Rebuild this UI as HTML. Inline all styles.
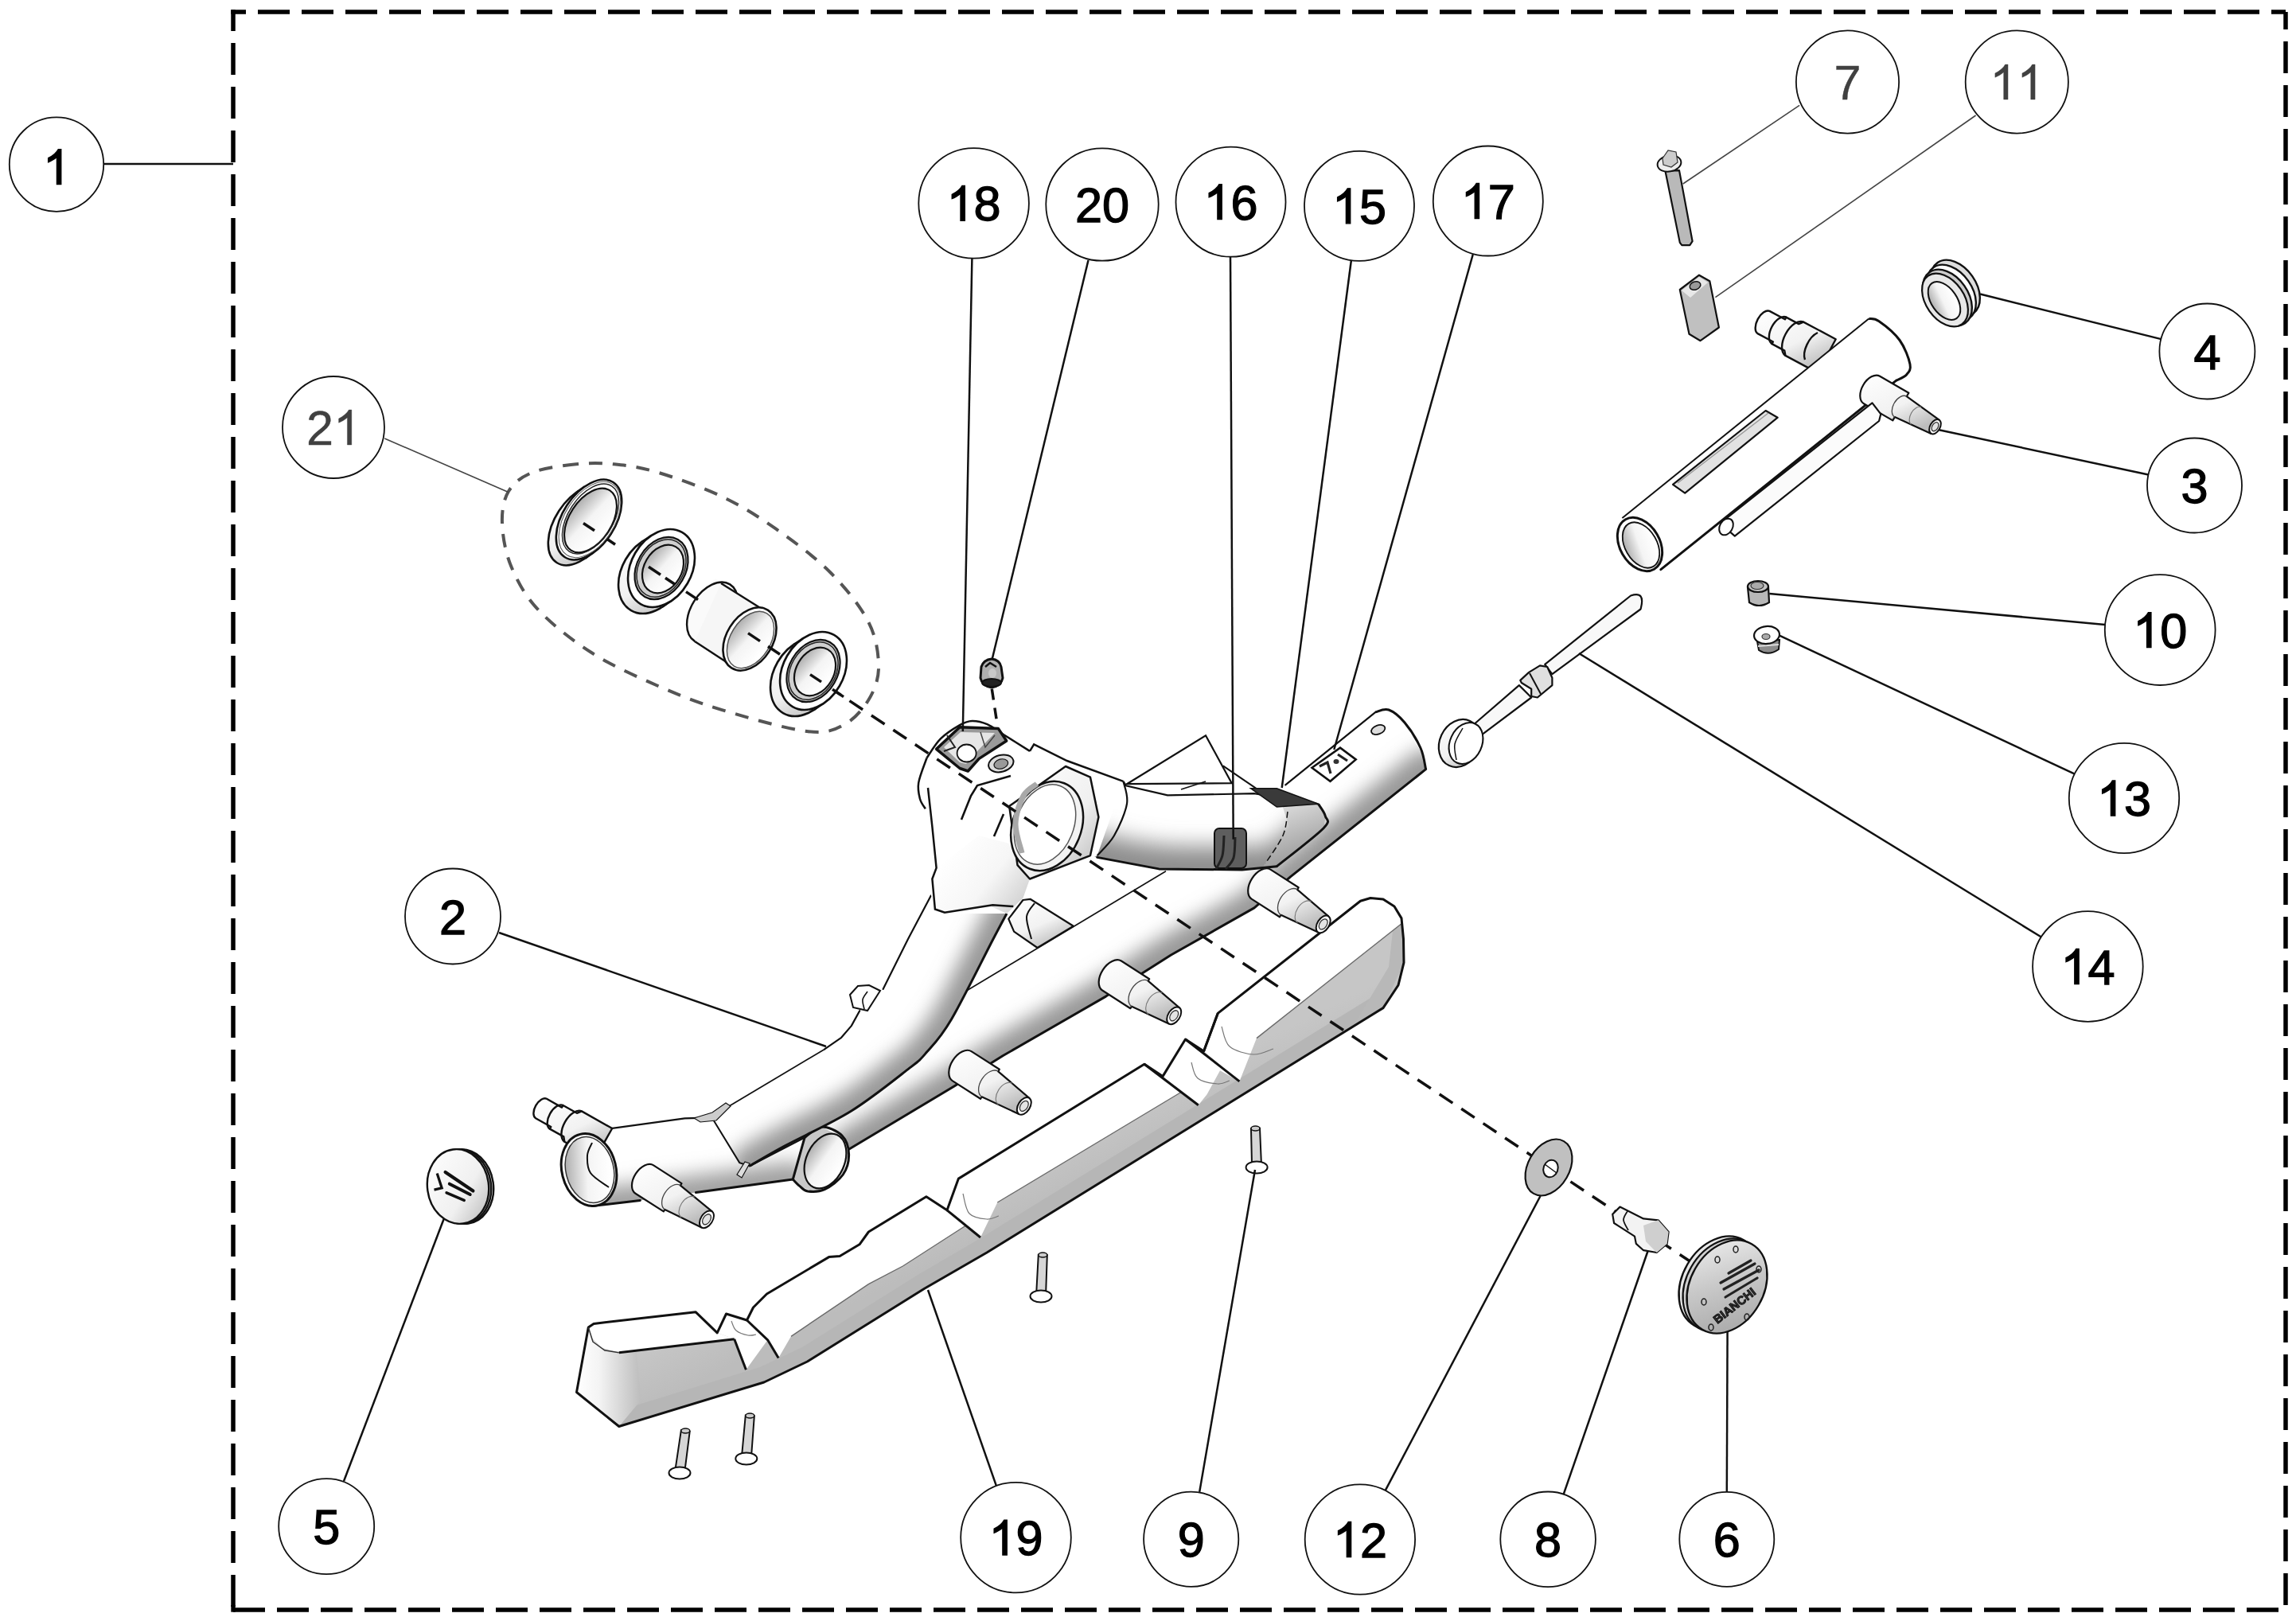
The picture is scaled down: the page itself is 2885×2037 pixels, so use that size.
<!DOCTYPE html>
<html><head><meta charset="utf-8"><title>Parts diagram</title>
<style>
html,body{margin:0;padding:0;background:#fff;}
body{width:2885px;height:2037px;overflow:hidden;}
svg{display:block;font-family:"Liberation Sans", sans-serif;}
</style></head><body>
<svg width="2885" height="2037" viewBox="0 0 2885 2037">
<rect width="2885" height="2037" fill="#fff"/>
<g stroke="#000" stroke-width="5.5" fill="none">
<line x1="290.3" y1="15" x2="2872" y2="15" stroke-dasharray="18.7 15 40 15 40 15 40 15 40 15 40 15 40 15 40 15 40 15 40 15 40 15 40 15 40 15 40 15 40 15 40 15 40 15 40 15 40 15 40 15 40 15 40 15 40 15 40 15 40 15 40 15 40 15 40 15 40 15 40 15 40 15 40 15 40 15 40 15 40 15 40 15 40 15 40 15 40 15 40 15 40 15 40 15 40 15 40 15 40 15 40 15 40 15 40 15 40 15 40 15 1000"/>
<line x1="293" y1="12.3" x2="293" y2="2023" stroke-dasharray="40 15" stroke-dashoffset="13.3"/>
<line x1="293" y1="2023" x2="2872" y2="2023" stroke-dasharray="40 15"/>
<rect x="290.3" y="2017" width="5.4" height="8.7" fill="#000" stroke="none"/>
<line x1="2872" y1="2023" x2="2872" y2="15" stroke-dasharray="40 15" stroke-dashoffset="49"/>
</g>
<defs>
<linearGradient id="gSkidFront" x1="0" y1="0" x2="1" y2="0">
 <stop offset="0" stop-color="#ffffff"/><stop offset="0.35" stop-color="#f4f4f4"/><stop offset="1" stop-color="#bdbdbd"/>
</linearGradient>
<linearGradient id="gSkidSide" gradientUnits="userSpaceOnUse" x1="1000" y1="1600" x2="1030" y2="1660">
 <stop offset="0" stop-color="#c6c6c6"/><stop offset="1" stop-color="#bcbcbc"/>
</linearGradient>
<linearGradient id="gTubeA" gradientUnits="userSpaceOnUse" x1="1020" y1="1250" x2="1150" y2="1380">
 <stop offset="0" stop-color="#ffffff"/><stop offset="0.45" stop-color="#fbfbfb"/><stop offset="0.8" stop-color="#cfcfcf"/><stop offset="1" stop-color="#a9a9a9"/>
</linearGradient>
<linearGradient id="gTubeB" gradientUnits="userSpaceOnUse" x1="1390" y1="1150" x2="1440" y2="1240">
 <stop offset="0" stop-color="#ffffff"/><stop offset="0.5" stop-color="#f7f7f7"/><stop offset="0.85" stop-color="#cdcdcd"/><stop offset="1" stop-color="#b0b0b0"/>
</linearGradient>
<linearGradient id="gTubeC" gradientUnits="userSpaceOnUse" x1="0" y1="1410" x2="0" y2="1510">
 <stop offset="0" stop-color="#ffffff"/><stop offset="0.5" stop-color="#f4f4f4"/><stop offset="1" stop-color="#b9b9b9"/>
</linearGradient>
<linearGradient id="gTubeD" gradientUnits="userSpaceOnUse" x1="0" y1="990" x2="0" y2="1092">
 <stop offset="0" stop-color="#ffffff"/><stop offset="0.35" stop-color="#f6f6f6"/><stop offset="1" stop-color="#9e9e9e"/>
</linearGradient>
<linearGradient id="gDEnd" gradientUnits="userSpaceOnUse" x1="1610" y1="1000" x2="1640" y2="1080">
 <stop offset="0" stop-color="#e6e6e6"/><stop offset="1" stop-color="#9a9a9a"/>
</linearGradient>
<linearGradient id="gHubNeck" gradientUnits="userSpaceOnUse" x1="1200" y1="1060" x2="1290" y2="1130">
 <stop offset="0" stop-color="#ffffff"/><stop offset="0.55" stop-color="#f6f6f6"/><stop offset="1" stop-color="#d2d2d2"/>
</linearGradient>
<linearGradient id="gStud" x1="0" y1="0" x2="0.6" y2="1">
 <stop offset="0" stop-color="#ffffff"/><stop offset="0.6" stop-color="#f2f2f2"/><stop offset="1" stop-color="#bdbdbd"/>
</linearGradient>
<linearGradient id="gInner" x1="0" y1="0" x2="1" y2="0.3">
 <stop offset="0" stop-color="#9c9c9c"/><stop offset="0.55" stop-color="#f4f4f4"/><stop offset="1" stop-color="#ffffff"/>
</linearGradient>
<linearGradient id="gGrayPart" x1="0" y1="0" x2="1" y2="0">
 <stop offset="0" stop-color="#d8d8d8"/><stop offset="0.5" stop-color="#bdbdbd"/><stop offset="1" stop-color="#aaaaaa"/>
</linearGradient>
<linearGradient id="gCap" x1="0" y1="0" x2="0.8" y2="1">
 <stop offset="0" stop-color="#f2f2f2"/><stop offset="0.5" stop-color="#c9c9c9"/><stop offset="1" stop-color="#a8a8a8"/>
</linearGradient>
<linearGradient id="gRing" x1="0" y1="0" x2="1" y2="1">
 <stop offset="0" stop-color="#ffffff"/><stop offset="0.6" stop-color="#f0f0f0"/><stop offset="1" stop-color="#b5b5b5"/>
</linearGradient>
<linearGradient id="gT3" gradientUnits="userSpaceOnUse" x1="2200" y1="540" x2="2250" y2="610">
 <stop offset="0" stop-color="#ffffff"/><stop offset="0.55" stop-color="#f6f6f6"/><stop offset="1" stop-color="#c4c4c4"/>
</linearGradient>
<filter id="blur8" filterUnits="userSpaceOnUse" x="0" y="0" width="2885" height="2037"><feGaussianBlur stdDeviation="8"/></filter>
<filter id="blur10" filterUnits="userSpaceOnUse" x="0" y="0" width="2885" height="2037"><feGaussianBlur stdDeviation="10"/></filter>
<filter id="blur14" filterUnits="userSpaceOnUse" x="0" y="0" width="2885" height="2037"><feGaussianBlur stdDeviation="14"/></filter>
<filter id="blur18" filterUnits="userSpaceOnUse" x="0" y="0" width="2885" height="2037"><feGaussianBlur stdDeviation="18"/></filter>
<filter id="blur12" filterUnits="userSpaceOnUse" x="0" y="0" width="2885" height="2037"><feGaussianBlur stdDeviation="12"/></filter>
<filter id="blur6" filterUnits="userSpaceOnUse" x="0" y="0" width="2885" height="2037"><feGaussianBlur stdDeviation="6"/></filter>
</defs>
<polygon points="777.8,1792.5 724.5,1749.5 739.3,1668 746,1663.4 874,1648.7 901.2,1674.8 912.5,1651 938.5,1659 946.5,1643 963.5,1626 1041.6,1579.6 1055.2,1578.5 1080,1563.8 1091.4,1548 1163.9,1503.8 1190,1520.8 1204.4,1481.1 1437.9,1337.2 1461,1352.6 1489.5,1306 1512.6,1320.9 1530.2,1273.4 1709.4,1132.2 1722,1128.5 1738,1130 1752,1139 1761,1153.9 1763.5,1180 1764,1209.6 1757,1238 1738,1266.6 1240,1574 1161.6,1619.3 1014.4,1711 960,1737" fill="url(#gSkidSide)" stroke="none"/>
<polygon points="1738,1266.6 1240,1574 1161.6,1619.3 1014.4,1711 960,1737 777.8,1792.5 770,1775 955,1718 1008,1693 1155,1601 1232,1556 1745,1240" fill="#b6b6b6" stroke="none"/>
<polygon points="724.5,1749.5 739.3,1668 745,1684 760,1697 777.8,1699.7 800,1697 805,1760 777.8,1792.5" fill="url(#gSkidFront)" stroke="none"/>
<polygon points="739.3,1668 746,1663.4 874,1648.7 901.2,1674.8 922.7,1682.7 777.8,1699.7 757,1694 744,1682" fill="#ffffff" stroke="none"/>
<polygon points="901.2,1674.8 912.5,1651 938.5,1659 946.5,1643 963.5,1626 1041.6,1579.6 1055.2,1578.5 1080,1563.8 1091.4,1548 1163.9,1503.8 1190,1520.8 1213.7,1540 1134.5,1591 1091.4,1613.6 994,1679.3 978.2,1706.5 964.6,1683.8 937.4,1721.2 922.7,1682.7" fill="#ffffff" stroke="none"/>
<polygon points="1190,1520.8 1204.4,1481.1 1437.9,1337.2 1505.8,1388.8 1484,1372.5 1253.3,1511 1232,1555" fill="#ffffff" stroke="none"/>
<polygon points="1461,1352.6 1489.5,1306 1557.4,1358.9 1533,1345.3 1516.6,1375.2 1505.8,1388.8" fill="#ffffff" stroke="none"/>
<polygon points="1512.6,1320.9 1530.2,1273.4 1709.4,1132.2 1720,1129 1735,1130 1750,1138 1761,1153.9 1761,1160.7 1579,1304.6 1557.4,1358.9" fill="#ffffff" stroke="none"/>
<polygon points="1761,1160.7 1764,1209.6 1738,1266.6 1700,1290 1745,1215 1750,1170" fill="#b8b8b8" stroke="none"/>
<polyline points="777.8,1699.7 922.7,1682.7" fill="none" stroke="#111" stroke-width="3"/>
<polyline points="994,1679.3 1091.4,1613.6 1134.5,1591 1213.7,1540" fill="none" stroke="#6a6a6a" stroke-width="1.4"/>
<polyline points="1253.3,1511 1484,1372.5" fill="none" stroke="#6a6a6a" stroke-width="1.4"/>
<polyline points="1579,1304.6 1761,1160.7" fill="none" stroke="#6a6a6a" stroke-width="1.4"/>
<polygon points="777.8,1792.5 724.5,1749.5 739.3,1668 746,1663.4 874,1648.7 901.2,1674.8 912.5,1651 938.5,1659 946.5,1643 963.5,1626 1041.6,1579.6 1055.2,1578.5 1080,1563.8 1091.4,1548 1163.9,1503.8 1190,1520.8 1204.4,1481.1 1437.9,1337.2 1461,1352.6 1489.5,1306 1512.6,1320.9 1530.2,1273.4 1709.4,1132.2 1722,1128.5 1738,1130 1752,1139 1761,1153.9 1763.5,1180 1764,1209.6 1757,1238 1738,1266.6 1240,1574 1161.6,1619.3 1014.4,1711 960,1737 777.8,1792.5" fill="none" stroke="#111" stroke-width="3" stroke-linejoin="round"/>
<polyline points="922.7,1682.7 937.4,1721.2" fill="none" stroke="#111" stroke-width="3" stroke-linejoin="round"/>
<polyline points="938.5,1659 964.6,1683.8 978.2,1706.5" fill="none" stroke="#111" stroke-width="3" stroke-linejoin="round"/>
<polyline points="1190,1520.8 1232,1555" fill="none" stroke="#111" stroke-width="3" stroke-linejoin="round"/>
<polyline points="1437.9,1337.2 1505.8,1388.8" fill="none" stroke="#111" stroke-width="3" stroke-linejoin="round"/>
<polyline points="1489.5,1306 1557.4,1358.9" fill="none" stroke="#111" stroke-width="3" stroke-linejoin="round"/>
<polyline points="739.3,1668 745,1686 760,1697 777.8,1699.7" fill="none" stroke="#333" stroke-width="1.5"/>
<polyline points="1512.6,1320.9 1530.2,1273.4" fill="none" stroke="#111" stroke-width="3" stroke-linejoin="round"/>
<path d="M1535,1290 C1536.7,1294.2 1538.3,1309.2 1545,1315 C1551.7,1320.8 1565.8,1324.5 1575,1325 C1584.2,1325.5 1595.8,1319.2 1600,1318" stroke="#777" stroke-width="1.2" fill="none"/>
<path d="M1497,1335 C1498.3,1338.3 1499.5,1350.5 1505,1355 C1510.5,1359.5 1523.3,1361.5 1530,1362 C1536.7,1362.5 1542.5,1358.7 1545,1358" stroke="#777" stroke-width="1.2" fill="none"/>
<path d="M1210,1500 C1211.3,1504.2 1213,1519.7 1218,1525 C1223,1530.3 1233.8,1531.5 1240,1532 C1246.2,1532.5 1252.5,1528.7 1255,1528" stroke="#777" stroke-width="1.2" fill="none"/>
<path d="M919,1660 C920,1662 921.5,1669 925,1672 C928.5,1675 935.8,1677.2 940,1678 C944.2,1678.8 948.3,1677.2 950,1677" stroke="#777" stroke-width="1.2" fill="none"/><clipPath id="clip1"><polygon points="1040,1415 1214.5,1245 1465,1094.7 1615.2,986.3 1728.4,894.8 1739.3,892.7 1763.3,906.8 1789.4,951.5 1791.6,966.7 1621.7,1101.7 1576,1140.9 1471.5,1200 1389.6,1252.1 1260,1326.8 1199.8,1364.6 1066.6,1444.3"/></clipPath><polygon points="1040,1415 1214.5,1245 1465,1094.7 1615.2,986.3 1728.4,894.8 1739.3,892.7 1763.3,906.8 1789.4,951.5 1791.6,966.7 1621.7,1101.7 1576,1140.9 1471.5,1200 1389.6,1252.1 1260,1326.8 1199.8,1364.6 1066.6,1444.3" fill="#ffffff" stroke="none"/><g clip-path="url(#clip1)"><path d="M1066.6,1444.3 C1088.8,1431 1167.6,1384.2 1199.8,1364.6 C1232,1345 1228.4,1345.5 1260,1326.8 C1291.6,1308 1354.3,1273.2 1389.6,1252.1 C1424.8,1231 1440.4,1218.5 1471.5,1200 C1502.6,1181.5 1551,1157.3 1576,1140.9 C1601,1124.5 1585.8,1130.7 1621.7,1101.7 C1657.6,1072.7 1763.3,989.2 1791.6,966.7" fill="none" stroke="#999999" stroke-width="50" stroke-linecap="round" stroke-linejoin="round" filter="url(#blur12)" opacity="1.0"/></g>
<polyline points="1214.5,1245 1465,1094.7" fill="none" stroke="#111" stroke-width="1.6"/>
<polyline points="1615.2,986.3 1728.4,894.8" fill="none" stroke="#111" stroke-width="2.2" stroke-linejoin="round" stroke-linecap="round"/>
<path d="M1728.4,894.8 C1731.2,894.3 1738.9,889.8 1745,892 C1751.1,894.2 1758.3,900 1765,908 C1771.7,916 1780.6,930.2 1785,940 C1789.4,949.8 1790.5,962.2 1791.6,966.7" stroke="#111" stroke-width="3" fill="none"/>
<polyline points="1791.6,966.7 1621.7,1101.7 1576,1140.9 1471.5,1200 1389.6,1252.1 1260,1326.8 1199.8,1364.6 1066.6,1444.3" fill="none" stroke="#111" stroke-width="3" stroke-linejoin="round" stroke-linecap="round"/>
<ellipse cx="1731.7" cy="917" rx="9" ry="5.5" transform="rotate(-20 1731.7 917)" fill="#ddd" stroke="#111" stroke-width="1.8"/>
<polygon points="1648.5,964.8 1684,939.6 1703.7,954.4 1671.5,981.8" fill="#fff" stroke="#111" stroke-width="2.6"/>
<polyline points="1658,963 1668,958 1672,972" fill="none" stroke="#222" stroke-width="3.2"/>
<polyline points="1681,948 1693,956" fill="none" stroke="#222" stroke-width="3.2"/>
<ellipse cx="1679" cy="957" rx="3.5" ry="3" fill="#333" stroke="none"/>
<path d="M1196.7,1358.1 A13.6,22 32.8 0 1 1220.5,1321.1 L1255.8,1343.8 L1254.2,1346.3 L1293.3,1379.8 L1280.3,1400 L1233.6,1378.3 L1232,1380.8 Z" fill="url(#gStud)" stroke="#111" stroke-width="2.2" stroke-linejoin="round"/>
<path d="M1254.2,1346.3 A11.8,19 32.8 0 0 1233.6,1378.3" fill="none" stroke="#444" stroke-width="1.3"/>
<path d="M1271.8,1361.4 A9.8,15.8 32.8 0 0 1254.6,1388.1" fill="none" stroke="#777" stroke-width="1.1"/>
<ellipse cx="1286.8" cy="1389.9" rx="7.4" ry="12" transform="rotate(32.8 1286.8 1389.9)" fill="#fff" stroke="#111" stroke-width="2"/>
<ellipse cx="1286.8" cy="1389.9" rx="4.5" ry="7.2" transform="rotate(32.8 1286.8 1389.9)" fill="#e4e4e4" stroke="#333" stroke-width="1.3"/>
<path d="M1385.1,1244.5 A13.6,22 32.8 0 1 1408.9,1207.5 L1444.2,1230.2 L1442.6,1232.7 L1481.7,1266.2 L1468.7,1286.4 L1422,1264.7 L1420.4,1267.2 Z" fill="url(#gStud)" stroke="#111" stroke-width="2.2" stroke-linejoin="round"/>
<path d="M1442.6,1232.7 A11.8,19 32.8 0 0 1422,1264.7" fill="none" stroke="#444" stroke-width="1.3"/>
<path d="M1460.2,1247.8 A9.8,15.8 32.8 0 0 1443,1274.5" fill="none" stroke="#777" stroke-width="1.1"/>
<ellipse cx="1475.2" cy="1276.3" rx="7.4" ry="12" transform="rotate(32.8 1475.2 1276.3)" fill="#fff" stroke="#111" stroke-width="2"/>
<ellipse cx="1475.2" cy="1276.3" rx="4.5" ry="7.2" transform="rotate(32.8 1475.2 1276.3)" fill="#e4e4e4" stroke="#333" stroke-width="1.3"/>
<path d="M1572.6,1129.6 A13.6,22 32.8 0 1 1596.4,1092.6 L1631.7,1115.3 L1630.1,1117.8 L1669.2,1151.3 L1656.2,1171.5 L1609.5,1149.8 L1607.9,1152.3 Z" fill="url(#gStud)" stroke="#111" stroke-width="2.2" stroke-linejoin="round"/>
<path d="M1630.1,1117.8 A11.8,19 32.8 0 0 1609.5,1149.8" fill="none" stroke="#444" stroke-width="1.3"/>
<path d="M1647.7,1132.9 A9.8,15.8 32.8 0 0 1630.5,1159.6" fill="none" stroke="#777" stroke-width="1.1"/>
<ellipse cx="1662.7" cy="1161.4" rx="7.4" ry="12" transform="rotate(32.8 1662.7 1161.4)" fill="#fff" stroke="#111" stroke-width="2"/>
<ellipse cx="1662.7" cy="1161.4" rx="4.5" ry="7.2" transform="rotate(32.8 1662.7 1161.4)" fill="#e4e4e4" stroke="#333" stroke-width="1.3"/>
<polygon points="1267.3,1154.7 1285.4,1131 1294.5,1129.8 1348.8,1163.8 1303.5,1191 1274.1,1170.6" fill="url(#gStud)" stroke="#111" stroke-width="2.2" stroke-linejoin="round" stroke-linecap="round"/>
<path d="M1300,1135 C1298.3,1137.8 1290.7,1144.5 1290,1152 C1289.3,1159.5 1295,1175.3 1296,1180" stroke="#111" stroke-width="2" fill="none"/>
<clipPath id="clip2"><polygon points="722.1,1424.3 860.4,1405.3 894.6,1404.4 941.8,1465.3 1011,1429.6 996.3,1482 874.4,1498.5 804.3,1508.5 744.1,1515.5"/></clipPath><polygon points="722.1,1424.3 860.4,1405.3 894.6,1404.4 941.8,1465.3 1011,1429.6 996.3,1482 874.4,1498.5 804.3,1508.5 744.1,1515.5" fill="#ffffff" stroke="none"/><g clip-path="url(#clip2)"><path d="M744.1,1515.5 C754.1,1514.3 782.6,1511.3 804.3,1508.5 C826,1505.7 842.4,1502.9 874.4,1498.5 C906.4,1494.1 976,1484.8 996.3,1482" fill="none" stroke="#a0a0a0" stroke-width="44" stroke-linecap="round" stroke-linejoin="round" filter="url(#blur12)" opacity="1.0"/></g>
<polyline points="722.1,1424.3 860.4,1405.3 894.6,1404.4" fill="none" stroke="#111" stroke-width="2.2" stroke-linejoin="round" stroke-linecap="round"/>
<polyline points="744.1,1515.5 804.3,1508.5" fill="none" stroke="#111" stroke-width="3" stroke-linejoin="round" stroke-linecap="round"/>
<polyline points="874.4,1498.5 996.3,1482" fill="none" stroke="#111" stroke-width="3" stroke-linejoin="round" stroke-linecap="round"/>
<polyline points="941.8,1465.3 1011,1429.6" fill="none" stroke="#111" stroke-width="2.2" stroke-linejoin="round" stroke-linecap="round"/>
<path d="M673.1,1405.2 A7.7,14 29.4 0 1 686.9,1380.8 L706,1391.6 L707.5,1389 L724.9,1398.8 L730.9,1396.4 L769.2,1418 L747.6,1456.3 L709.3,1434.7 L708.3,1428.4 L690.8,1418.6 L692.3,1416 L673.1,1405.2 Z" fill="url(#gStud)" stroke="#111" stroke-width="2.4" stroke-linejoin="round"/>
<path d="M707.5,1389 A9.4,17 29.4 0 0 690.8,1418.6" fill="none" stroke="#111" stroke-width="2.4"/>
<path d="M730.9,1396.4 A12.1,22 29.4 0 0 709.3,1434.7" fill="none" stroke="#111" stroke-width="2.4"/>
<ellipse cx="740" cy="1470" rx="34" ry="46" transform="rotate(-14 740 1470)" fill="#fff" stroke="#111" stroke-width="3" stroke-linejoin="round" stroke-linecap="round"/>
<ellipse cx="741" cy="1470" rx="30" ry="42" transform="rotate(-14 741 1470)" fill="url(#gInner)" stroke="#333" stroke-width="1.5"/>
<path d="M744,1436 C743,1438.7 738.3,1445.7 738,1452 C737.7,1458.3 737.5,1467.3 742,1474 C746.5,1480.7 761.2,1489 765,1492" stroke="#111" stroke-width="2" fill="none"/>
<path d="M798.4,1499.7 A13,21 32.8 0 1 821.2,1464.3 L856.5,1487.1 L854.9,1489.6 L894.5,1522.2 L881.5,1542.4 L835.4,1519.9 L833.8,1522.4 Z" fill="url(#gStud)" stroke="#111" stroke-width="2.2" stroke-linejoin="round"/>
<path d="M854.9,1489.6 A11.2,18 32.8 0 0 835.4,1519.9" fill="none" stroke="#444" stroke-width="1.3"/>
<path d="M872.7,1504.3 A9.5,15.3 32.8 0 0 856.1,1530" fill="none" stroke="#777" stroke-width="1.1"/>
<ellipse cx="888" cy="1532.3" rx="7.4" ry="12" transform="rotate(32.8 888 1532.3)" fill="#fff" stroke="#111" stroke-width="2"/>
<ellipse cx="888" cy="1532.3" rx="4.5" ry="7.2" transform="rotate(32.8 888 1532.3)" fill="#e4e4e4" stroke="#333" stroke-width="1.3"/>
<polygon points="996.3,1482 1011,1429.6 1032,1416 1060,1430 1066.6,1450.6 1059.3,1473.6 1036.2,1494.6 1019.4,1496.7 1004.7,1490.4" fill="#c8c8c8" stroke="none"/>
<path d="M1011,1429.6 C1014.5,1427.3 1024.2,1416.4 1032,1416 C1039.8,1415.6 1052.2,1421.2 1058,1427 C1063.8,1432.8 1066.4,1442.4 1066.6,1450.6 C1066.8,1458.8 1064.4,1468.7 1059.3,1476 C1054.2,1483.3 1043.6,1491.1 1036.2,1494.6 C1028.8,1498.1 1020.2,1497.7 1015,1497 C1009.8,1496.3 1007.8,1492.9 1004.7,1490.4 C1001.6,1487.9 997.7,1483.4 996.3,1482" stroke="#111" stroke-width="3" fill="none"/>
<polyline points="1011,1429.6 996.3,1482" fill="none" stroke="#111" stroke-width="3" stroke-linejoin="round" stroke-linecap="round"/>
<ellipse cx="1037" cy="1459" rx="24" ry="36" transform="rotate(24 1037 1459)" fill="url(#gInner)" stroke="#111" stroke-width="2.2"/>
<clipPath id="clip3"><polygon points="1169.9,1125.3 1141,1180 1109.6,1242.9 1080.2,1270.2 1069.8,1289.1 1057.2,1303.8 1036.2,1318.4 916.6,1389.8 894.6,1404.4 929.2,1461.1 941.8,1465.3 985.9,1440.1 1069.8,1396 1141,1343.6 1164.1,1322.6 1195.6,1280.7 1248,1180 1265,1148 1185.7,1148"/></clipPath><polygon points="1169.9,1125.3 1141,1180 1109.6,1242.9 1080.2,1270.2 1069.8,1289.1 1057.2,1303.8 1036.2,1318.4 916.6,1389.8 894.6,1404.4 929.2,1461.1 941.8,1465.3 985.9,1440.1 1069.8,1396 1141,1343.6 1164.1,1322.6 1195.6,1280.7 1248,1180 1265,1148 1185.7,1148" fill="#ffffff" stroke="none"/><g clip-path="url(#clip3)"><path d="M941.8,1465.3 C949.1,1461.1 964.6,1451.6 985.9,1440.1 C1007.2,1428.5 1044,1412.1 1069.8,1396 C1095.6,1379.9 1125.3,1355.8 1141,1343.6 C1156.7,1331.4 1155,1333.1 1164.1,1322.6 C1173.2,1312.1 1181.6,1304.5 1195.6,1280.7 C1209.6,1256.9 1236.4,1202.1 1248,1180 C1259.6,1157.9 1262.2,1153.3 1265,1148" fill="none" stroke="#999999" stroke-width="50" stroke-linecap="round" stroke-linejoin="round" filter="url(#blur12)" opacity="1.0"/></g>
<polyline points="1169.9,1125.3 1141,1180 1109.6,1242.9" fill="none" stroke="#111" stroke-width="2.2" stroke-linejoin="round" stroke-linecap="round"/>
<polyline points="1080.2,1270.2 1069.8,1289.1 1057.2,1303.8 1036.2,1318.4" fill="none" stroke="#111" stroke-width="2.2" stroke-linejoin="round" stroke-linecap="round"/>
<polyline points="1036.2,1318.4 916.6,1389.8" fill="none" stroke="#111" stroke-width="1.8"/>
<polyline points="894.6,1404.4 929.2,1461.1 941.8,1465.3" fill="none" stroke="#111" stroke-width="2"/>
<path d="M941.8,1465.3 C949.1,1461.1 964.6,1451.6 985.9,1440.1 C1007.2,1428.5 1044,1412.1 1069.8,1396 C1095.6,1379.9 1125.3,1355.8 1141,1343.6 C1156.7,1331.4 1155,1333.1 1164.1,1322.6 C1173.2,1312.1 1181.6,1304.5 1195.6,1280.7 C1209.6,1256.9 1236.4,1202.1 1248,1180 C1259.6,1157.9 1262.2,1153.3 1265,1148" stroke="#111" stroke-width="3" fill="none"/>
<polygon points="872,1405 895,1398 912,1386 918,1390 900,1408 880,1410" fill="#ccc" stroke="#111" stroke-width="1.2"/>
<polygon points="926,1476 936,1460 942,1462 932,1480" fill="#ddd" stroke="#111" stroke-width="1.2"/>
<polygon points="1068,1250 1078,1239 1092,1238 1106,1245 1090,1270 1072,1266" fill="#fff" stroke="#111" stroke-width="2"/>
<path d="M1090,1246 C1089,1247.7 1084.7,1252.3 1084,1256 C1083.3,1259.7 1085.7,1266 1086,1268" stroke="#111" stroke-width="1.6" fill="none"/>
<clipPath id="clip4"><polygon points="1339,963 1411.5,981.9 1414.8,987.4 1467.1,999.4 1576,997.2 1656.6,1010.3 1665.3,1025.5 1663.1,1040.7 1604.3,1088.7 1560.7,1093 1456.2,1091.9 1378.7,1077.4 1370,1075.1"/></clipPath><polygon points="1339,963 1411.5,981.9 1414.8,987.4 1467.1,999.4 1576,997.2 1656.6,1010.3 1665.3,1025.5 1663.1,1040.7 1604.3,1088.7 1560.7,1093 1456.2,1091.9 1378.7,1077.4 1370,1075.1" fill="#ffffff" stroke="none"/><g clip-path="url(#clip4)"><path d="M1370,1075.1 C1371.5,1075.5 1364.3,1074.6 1378.7,1077.4 C1393.1,1080.2 1425.9,1089.3 1456.2,1091.9 C1486.5,1094.5 1536,1093.5 1560.7,1093 C1585.4,1092.5 1587.2,1097.4 1604.3,1088.7 C1621.4,1080 1653.3,1048.7 1663.1,1040.7" fill="none" stroke="#8e8e8e" stroke-width="60" stroke-linecap="round" stroke-linejoin="round" filter="url(#blur14)" opacity="1.0"/></g>
<polygon points="1610,1008 1656.6,1010.3 1665.3,1025.5 1663.1,1040.7 1604.3,1088.7 1585,1092 1620,1040" fill="url(#gDEnd)" stroke="none"/>
<polyline points="1411.5,981.9 1414.8,987.4 1467.1,999.4 1576,997.2 1656.6,1010.3" fill="none" stroke="#111" stroke-width="2.2"/>
<path d="M1656.6,1010.3 C1658,1012.8 1664.2,1020.4 1665.3,1025.5 C1666.4,1030.6 1673.3,1030.2 1663.1,1040.7 C1652.9,1051.2 1614.1,1080.7 1604.3,1088.7" stroke="#111" stroke-width="3" fill="none"/>
<polyline points="1604.3,1088.7 1560.7,1093 1456.2,1091.9 1378.7,1077.4" fill="none" stroke="#111" stroke-width="3" stroke-linejoin="round" stroke-linecap="round"/>
<path d="M1618,1020 C1617,1025 1616.7,1039.2 1612,1050 C1607.3,1060.8 1593.7,1079.2 1590,1085" stroke="#111" stroke-width="1.5" stroke-dasharray="8 4" fill="none"/>
<polygon points="1415.9,985.2 1515,924.2 1547.7,984.1" fill="#fff" stroke="#111" stroke-width="2.2"/>
<polyline points="1536.8,962.4 1578.2,990.7" fill="none" stroke="#111" stroke-width="2"/>
<polyline points="1484,992 1515,982" fill="none" stroke="#111" stroke-width="1.8"/>
<polygon points="1571.6,990.7 1604.3,990.7 1656.6,1010.3 1604.3,1014" fill="#3a3a3a" stroke="#111" stroke-width="1.5"/>
<rect x="1526" y="1041" width="40" height="50" rx="6" fill="#5e5e5e" stroke="#111" stroke-width="2"/>
<path d="M1538,1050 C1537.7,1054.2 1537.7,1068 1536,1075 C1534.3,1082 1529.3,1089.2 1528,1092" stroke="#222" stroke-width="3" fill="none"/>
<path d="M1552,1052 C1551.7,1056.3 1552,1071.3 1550,1078 C1548,1084.7 1541.7,1089.7 1540,1092" stroke="#222" stroke-width="3" fill="none"/>
<polygon points="1171.4,1104.5 1176.6,1090.7 1171.4,1038.9 1162.8,1016.4 1154.2,983.6 1164.5,952.5 1181.8,928.4 1206,911.1 1221.5,905.9 1240.5,910.2 1261.2,923.2 1294,943.9 1299.2,935.3 1340.7,956 1411.5,981.9 1378.7,1075.1 1342.4,1092.4 1294,1104.5 1285.4,1128.7 1265,1148 1242.4,1137.8 1185.7,1148 1176.7,1139 1169.9,1125.3" fill="#fff" stroke="none"/>
<polygon points="1176.6,1090.7 1230,1050 1268,1060 1294,1104.5 1285.4,1128.7 1265,1148 1242.4,1137.8 1185.7,1148 1176.7,1139 1171.4,1104.5" fill="url(#gHubNeck)" stroke="none"/>
<path d="M1164.5,952.5 C1162.8,957.7 1155.6,975 1154.2,983.6 C1152.8,992.2 1154.6,998.5 1156,1004 C1157.4,1009.5 1161.7,1014.3 1162.8,1016.4" stroke="#111" stroke-width="2.5" fill="none"/>
<path d="M1164.5,952.5 C1167.4,948.5 1174.9,935.3 1181.8,928.4 C1188.7,921.5 1199.4,914.9 1206,911.1 C1212.6,907.4 1215.8,906 1221.5,905.9 C1227.2,905.8 1233.9,907.3 1240.5,910.2 C1247.1,913.1 1252.3,917.6 1261.2,923.2 C1270.1,928.8 1288.5,940.5 1294,943.9" stroke="#111" stroke-width="2.5" fill="none"/>
<polyline points="1294,943.9 1299.2,935.3 1340.7,956 1411.5,981.9" fill="none" stroke="#111" stroke-width="2.5"/>
<polyline points="1166,990 1171.4,1038.9 1176.6,1090.7 1171.4,1104.5 1174.9,1142.5 1187,1146.8 1247.4,1137.3 1273.3,1139" fill="none" stroke="#111" stroke-width="2.5"/>
<polyline points="1270,975 1228,987 1220,1000 1208,1030" fill="none" stroke="#111" stroke-width="2.6"/>
<polyline points="1261,1023 1249,1051" fill="none" stroke="#111" stroke-width="2.6"/>
<path d="M1411.5,981.9 C1412.2,986.6 1417.9,998.6 1416,1010 C1414.1,1021.4 1406.2,1039.2 1400,1050 C1393.8,1060.8 1382.2,1070.9 1378.7,1075.1" stroke="#111" stroke-width="2.2" fill="none"/>
<polygon points="1268.2,1013 1339,963 1370,976.7 1380.4,1026.8 1370,1075.1 1294,1104.5 1278.5,1087.2" fill="url(#gRing)" stroke="#111" stroke-width="2.5" stroke-linejoin="round"/>
<ellipse cx="1315.6" cy="1038" rx="43" ry="58" transform="rotate(22 1315.6 1038)" fill="#f2f2f2" stroke="#111" stroke-width="2.5"/>
<ellipse cx="1313" cy="1036" rx="36" ry="52" transform="rotate(22 1313 1036)" fill="#fff" stroke="#555" stroke-width="1.5"/>
<path d="M1303,985 C1300.2,987.5 1290.5,991.7 1286,1000 C1281.5,1008.3 1276.3,1023 1276,1035 C1275.7,1047 1282.7,1065.8 1284,1072" stroke="#a8a8a8" stroke-width="7" fill="none"/>
<polygon points="1176.6,941.3 1206,913.7 1254.3,915.4 1264.7,931 1230.2,953.4 1216.3,969 1206,965.5" fill="#9a9a9a" stroke="#111" stroke-width="3.5" stroke-linejoin="round"/>
<polygon points="1186,939 1207,920 1250,921 1228,944 1214,960 1206,958" fill="#e6e6e6" stroke="none"/>
<polyline points="1190,924 1200,939 1186,944" fill="none" stroke="#222" stroke-width="2"/>
<polyline points="1232,920 1238,939 1250,924" fill="none" stroke="#444" stroke-width="1.5"/>
<ellipse cx="1214.6" cy="946.5" rx="12" ry="11" fill="#fff" stroke="#111" stroke-width="1.8"/>
<ellipse cx="1257.8" cy="959.4" rx="16" ry="10.5" transform="rotate(-15 1257.8 959.4)" fill="#ddd" stroke="#111" stroke-width="2"/>
<ellipse cx="1257.8" cy="960" rx="9" ry="6" transform="rotate(-15 1257.8 960)" fill="#999" stroke="#111" stroke-width="1.2"/><line x1="1040" y1="862.3" x2="2130" y2="1589.3" stroke="#111" stroke-width="3.5" stroke-dasharray="20 13"/>
<line x1="1246.3" y1="865.7" x2="1253" y2="910" stroke="#111" stroke-width="3.5" stroke-dasharray="14 10"/>
<path d="M724,583.3 C707,585 683.9,587.8 669.7,593.4 C655.6,599 645.6,606.5 639.1,617.2 C632.6,628 630.4,642.1 631,657.9 C631.6,673.7 634.9,694.1 642.5,712.2 C650.1,730.3 659.5,748.4 676.5,766.5 C693.5,784.6 719.4,805 744.3,820.8 C769.2,836.6 798.6,849.6 825.8,861.5 C852.9,873.4 875.5,882.5 907.2,892.1 C938.9,901.7 989.8,916.4 1015.8,919.2 C1041.8,922 1050.3,916.4 1063.3,909 C1076.3,901.6 1087.1,887.5 1093.9,875.1 C1100.7,862.7 1104.6,850.2 1104,834.4 C1103.4,818.6 1100.7,799.3 1090.5,780.1 C1080.3,760.9 1062.2,738.2 1043,719 C1023.8,699.8 997.7,680.5 975.1,664.7 C952.5,648.9 932.1,635.9 907.2,624 C882.3,612.1 848.4,600.2 825.8,593.4 C803.2,586.6 788.5,585 771.5,583.3 C754.5,581.6 741,581.6 724,583.3 Z" fill="none" stroke="#555" stroke-width="4" stroke-dasharray="17 13"/>
<ellipse cx="730" cy="660" rx="33" ry="56" transform="rotate(33 730 660)" fill="url(#gRing)" stroke="#111" stroke-width="2.6"/>
<polygon points="734.4,611.6 724.4,618.6 735.6,701.4 745.6,694.4" fill="#f4f4f4" stroke="none"/>
<line x1="734.4" y1="611.6" x2="724.4" y2="618.6" stroke="#111" stroke-width="2.4"/>
<line x1="745.6" y1="694.4" x2="735.6" y2="701.4" stroke="#111" stroke-width="2.4"/>
<ellipse cx="740" cy="653" rx="33" ry="56" transform="rotate(33 740 653)" fill="#ffffff" stroke="#111" stroke-width="2.6"/>
<ellipse cx="742" cy="654" rx="26.4" ry="44.8" transform="rotate(33 742 654)" fill="url(#gInner)" stroke="#111" stroke-width="2.2"/>
<ellipse cx="742" cy="652" rx="28" ry="49" transform="rotate(33 742 652)" fill="none" stroke="#222" stroke-width="1.4"/>
<ellipse cx="741" cy="653" rx="31" ry="53" transform="rotate(33 741 653)" fill="none" stroke="#555" stroke-width="1"/>
<ellipse cx="819" cy="722" rx="38" ry="52" transform="rotate(30 819 722)" fill="url(#gRing)" stroke="#111" stroke-width="2.6"/>
<polygon points="818.3,673 806.3,681 831.7,763 843.7,755" fill="#f4f4f4" stroke="none"/>
<line x1="818.3" y1="673" x2="806.3" y2="681" stroke="#111" stroke-width="2.4"/>
<line x1="843.7" y1="755" x2="831.7" y2="763" stroke="#111" stroke-width="2.4"/>
<ellipse cx="831" cy="714" rx="38" ry="52" transform="rotate(30 831 714)" fill="#ffffff" stroke="#111" stroke-width="2.6"/>
<ellipse cx="831" cy="714" rx="30.4" ry="41.6" transform="rotate(30 831 714)" fill="#cfcfcf" stroke="#111" stroke-width="2.2"/>
<ellipse cx="831" cy="714" rx="28.1" ry="38.5" transform="rotate(30 831 714)" fill="none" stroke="#222" stroke-width="1.5"/>
<ellipse cx="833" cy="715" rx="23.6" ry="32.2" transform="rotate(30 833 715)" fill="url(#gInner)" stroke="#111" stroke-width="2.2"/>
<polygon points="874,746 899,727 955,763 972,793 958,820 938,832 880,797 866,777" fill="url(#gRing)" stroke="none"/>
<ellipse cx="895" cy="770" rx="27" ry="42" transform="rotate(32 895 770)" fill="#fafafa" stroke="#111" stroke-width="2.4"/>
<polygon points="906,733 957,765 925,840 873,806" fill="#f6f6f6" stroke="none"/>
<polyline points="906,733 957,765" fill="none" stroke="#111" stroke-width="2.4"/>
<polyline points="873,806 925,840" fill="none" stroke="#111" stroke-width="2.4"/>
<ellipse cx="942" cy="803" rx="29" ry="43" transform="rotate(32 942 803)" fill="#ffffff" stroke="#111" stroke-width="2.6"/>
<ellipse cx="943" cy="804" rx="25" ry="39" transform="rotate(32 943 804)" fill="url(#gInner)" stroke="#555" stroke-width="1.5"/>
<ellipse cx="1010" cy="851" rx="38" ry="52" transform="rotate(30 1010 851)" fill="url(#gRing)" stroke="#111" stroke-width="2.6"/>
<polygon points="1009.3,802 997.3,810 1022.7,892 1034.7,884" fill="#f4f4f4" stroke="none"/>
<line x1="1009.3" y1="802" x2="997.3" y2="810" stroke="#111" stroke-width="2.4"/>
<line x1="1034.7" y1="884" x2="1022.7" y2="892" stroke="#111" stroke-width="2.4"/>
<ellipse cx="1022" cy="843" rx="38" ry="52" transform="rotate(30 1022 843)" fill="#ffffff" stroke="#111" stroke-width="2.6"/>
<ellipse cx="1022" cy="843" rx="30.4" ry="41.6" transform="rotate(30 1022 843)" fill="#cfcfcf" stroke="#111" stroke-width="2.2"/>
<ellipse cx="1022" cy="843" rx="28.1" ry="38.5" transform="rotate(30 1022 843)" fill="none" stroke="#222" stroke-width="1.5"/>
<ellipse cx="1024" cy="844" rx="23.6" ry="32.2" transform="rotate(30 1024 844)" fill="url(#gInner)" stroke="#111" stroke-width="2.2"/>
<line x1="733" y1="657.5" x2="747" y2="666.8" stroke="#111" stroke-width="3.5"/>
<line x1="763" y1="677.5" x2="773" y2="684.2" stroke="#111" stroke-width="3.5"/>
<line x1="815" y1="712.2" x2="830" y2="722.2" stroke="#111" stroke-width="3.5"/>
<line x1="836" y1="726.2" x2="848" y2="734.2" stroke="#111" stroke-width="3.5"/>
<line x1="862" y1="743.6" x2="877" y2="753.6" stroke="#111" stroke-width="3.5"/>
<line x1="940" y1="795.6" x2="955" y2="805.6" stroke="#111" stroke-width="3.5"/>
<line x1="965" y1="812.3" x2="980" y2="822.3" stroke="#111" stroke-width="3.5"/>
<line x1="1018" y1="847.6" x2="1032" y2="856.9" stroke="#111" stroke-width="3.5"/>
<line x1="1046" y1="866.3" x2="1060" y2="875.6" stroke="#111" stroke-width="3.5"/>
<path d="M1233,838 Q1236,829 1246,828 Q1256,829 1258,838 L1260,852 Q1258,862 1246,864 Q1234,862 1232,852 Z" fill="#b0b0b0" stroke="#111" stroke-width="3"/>
<ellipse cx="1246" cy="858" rx="12" ry="5" fill="#222" stroke="#111" stroke-width="2"/>
<polyline points="1238,838 1244,833 1252,838" fill="none" stroke="#111" stroke-width="2.5"/>
<ellipse cx="1247" cy="846" rx="5" ry="6" fill="#c8c8c8" stroke="none"/>
<path d="M2208.5,419.1 A8.8,16 28.1 0 1 2223.5,390.9 L2242.9,401.3 L2244.4,398.6 L2260.2,407.1 L2266.1,404.6 L2306.7,426.2 L2284.1,468.6 L2243.5,446.9 L2242.3,440.6 L2226.5,432.1 L2227.9,429.5 L2208.5,419.1 Z" fill="url(#gStud)" stroke="#111" stroke-width="2.4" stroke-linejoin="round"/>
<path d="M2244.4,398.6 A10.5,19 28.1 0 0 2226.5,432.1" fill="none" stroke="#111" stroke-width="2.4"/>
<path d="M2266.1,404.6 A13.2,24 28.1 0 0 2243.5,446.9" fill="none" stroke="#111" stroke-width="2.4"/>
<path d="M2268,452 A12,22 28 0 1 2284,418" fill="none" stroke="#111" stroke-width="2.4"/>
<clipPath id="clip1"><polygon points="2038.4,651 2348.2,400.5 2361.1,403.7 2387,427.5 2400,457.7 2395.7,470.7 2382.7,478.2 2086.9,715.7 2060,712"/></clipPath><polygon points="2038.4,651 2348.2,400.5 2361.1,403.7 2387,427.5 2400,457.7 2395.7,470.7 2382.7,478.2 2086.9,715.7 2060,712" fill="#ffffff" stroke="none"/><g clip-path="url(#clip1)"><path d="M2086.9,715.7 C2136.2,676.1 2331.2,519 2382.7,478.2 C2434.2,437.4 2393.5,471.9 2395.7,470.7" fill="none" stroke="#a0a0a0" stroke-width="64" stroke-linecap="round" stroke-linejoin="round" filter="url(#blur14)" opacity="1.0"/></g>
<polyline points="2038.4,651 2348.2,400.5" fill="none" stroke="#111" stroke-width="2"/>
<path d="M2348.2,400.5 C2350.3,401 2354.6,399.2 2361.1,403.7 C2367.6,408.2 2380.5,418.5 2387,427.5 C2393.5,436.5 2398.6,450.5 2400,457.7 C2401.4,464.9 2398.6,467.3 2395.7,470.7 C2392.8,474.1 2384.9,476.9 2382.7,478.2" stroke="#111" stroke-width="3" fill="none"/>
<polyline points="2382.7,478.2 2086.9,715.7" fill="none" stroke="#111" stroke-width="3" stroke-linejoin="round" stroke-linecap="round"/>
<path d="M2341.9,507.3 A12.4,20 30.2 0 1 2362.1,472.7 L2398.4,493.8 L2395.8,498.1 L2436.6,527.6 L2426.5,544.9 L2380.8,524.1 L2378.3,528.4 Z" fill="url(#gStud)" stroke="#111" stroke-width="2.2" stroke-linejoin="round"/>
<path d="M2395.8,498.1 A9.3,15 30.2 0 0 2380.8,524.1" fill="none" stroke="#444" stroke-width="1.3"/>
<path d="M2414.2,511.4 A7.9,12.8 30.2 0 0 2401.4,533.4" fill="none" stroke="#777" stroke-width="1.1"/>
<ellipse cx="2431.5" cy="536.2" rx="6.2" ry="10" transform="rotate(30.2 2431.5 536.2)" fill="#fff" stroke="#111" stroke-width="2"/>
<ellipse cx="2431.5" cy="536.2" rx="3.7" ry="6" transform="rotate(30.2 2431.5 536.2)" fill="#e4e4e4" stroke="#333" stroke-width="1.3"/>
<polygon points="2162.5,658.5 2171.1,649.9 2352.5,506.3 2363.3,520.3 2361.1,529 2179.8,673.6" fill="#fbfbfb" stroke="#111" stroke-width="2.2" stroke-linejoin="round" stroke-linecap="round"/>
<ellipse cx="2169" cy="662" rx="8" ry="11" transform="rotate(30 2169 662)" fill="#fff" stroke="#111" stroke-width="2"/>
<polygon points="2102,608.9 2218.6,516 2233.7,524.7 2117.2,619.6" fill="#e2e2e2" stroke="#111" stroke-width="2.2" stroke-linejoin="round"/>
<polyline points="2108,607 2222,519" fill="none" stroke="#999" stroke-width="1.5"/>
<ellipse cx="2060.5" cy="684" rx="25" ry="36" transform="rotate(-30 2060.5 684)" fill="#fff" stroke="#111" stroke-width="3" stroke-linejoin="round" stroke-linecap="round"/>
<ellipse cx="2062" cy="685" rx="20" ry="31" transform="rotate(-30 2062 685)" fill="url(#gInner)" stroke="#111" stroke-width="1.8"/>
<path d="M1941.2,834.9 L2049.1,748.5 Q2068,742 2061.5,765.5 L1950.4,847.2 Z" fill="#f8f8f8" stroke="#111" stroke-width="2.2" stroke-linejoin="round"/>
<polygon points="1851.7,910.5 1908.8,861.1 1924.2,876.5 1862.5,922.8" fill="#f8f8f8" stroke="#111" stroke-width="2.2" stroke-linejoin="round" stroke-linecap="round"/>
<polygon points="1910.3,854.9 1921.1,844.9 1935,836.4 1944.2,838 1950.4,851.8 1950.4,861.1 1931.9,876.5 1924.2,875 1924.2,865.7 1911.8,858" fill="#e0e0e0" stroke="#111" stroke-width="2.2" stroke-linejoin="round" stroke-linecap="round"/>
<polyline points="1922,846 1936,872" fill="none" stroke="#111" stroke-width="2"/>
<ellipse cx="1834" cy="934" rx="25" ry="31" transform="rotate(25 1834 934)" fill="url(#gRing)" stroke="#111" stroke-width="2.2" stroke-linejoin="round" stroke-linecap="round"/>
<ellipse cx="1842" cy="934" rx="20" ry="27" transform="rotate(25 1842 934)" fill="#fff" stroke="#111" stroke-width="2"/>
<path d="M1838,915 C1836.3,918.3 1829.3,928.3 1828,935 C1826.7,941.7 1829.7,951.7 1830,955" stroke="#111" stroke-width="1.5" fill="none"/>
<polygon points="2092.5,215 2110,214.1 2126.6,303.2 2123.3,308.2 2113.3,308.2 2110.8,304.9" fill="#b9b9b9" stroke="#111" stroke-width="2.2" stroke-linejoin="round" stroke-linecap="round"/>
<ellipse cx="2097.5" cy="205.5" rx="15" ry="10" transform="rotate(-10 2097.5 205.5)" fill="#eee" stroke="#111" stroke-width="2"/>
<polygon points="2089,199 2096,189 2106,191 2108,204 2100,210 2090,207" fill="#ccc" stroke="#333" stroke-width="1.2"/>
<polygon points="2110.8,364 2135,345.7 2148.3,353.2 2159.9,411.5 2136.6,428.2 2122.5,419.8" fill="#c0c0c0" stroke="#111" stroke-width="2.2" stroke-linejoin="round" stroke-linecap="round"/>
<polygon points="2113,365 2135,348 2146,355 2124,374" fill="#e8e8e8" stroke="none"/>
<ellipse cx="2130" cy="359" rx="7" ry="5" transform="rotate(-20 2130 359)" fill="#999" stroke="#111" stroke-width="1.5"/>
<ellipse cx="2457" cy="362" rx="26" ry="39" transform="rotate(-35 2457 362)" fill="#ddd" stroke="#111" stroke-width="2.4"/>
<ellipse cx="2452" cy="368" rx="26" ry="39" transform="rotate(-35 2452 368)" fill="#fff" stroke="#111" stroke-width="2.4"/>
<ellipse cx="2447" cy="374" rx="26" ry="39" transform="rotate(-35 2447 374)" fill="#ccc" stroke="#111" stroke-width="2.4"/>
<ellipse cx="2444" cy="377" rx="24" ry="37" transform="rotate(-35 2444 377)" fill="#e8e8e8" stroke="#111" stroke-width="2.2"/>
<ellipse cx="2443" cy="378" rx="16" ry="27" transform="rotate(-35 2443 378)" fill="url(#gInner)" stroke="#111" stroke-width="2"/>
<path d="M2196,738 L2198,757 Q2210,765 2223,757 L2222,738 Z" fill="#b8b8b8" stroke="#111" stroke-width="2.2"/>
<ellipse cx="2209" cy="737" rx="13" ry="7" fill="#c4c4c4" stroke="#111" stroke-width="2.2"/>
<ellipse cx="2208" cy="736" rx="8" ry="4.5" fill="#aaa" stroke="#333" stroke-width="1.2"/>
<path d="M2208,806 L2210,817 Q2222,825 2235,816 L2236,804 Z" fill="#8c8c8c" stroke="#111" stroke-width="2"/>
<line x1="2209" y1="812" x2="2235" y2="810" stroke="#ddd" stroke-width="2"/>
<ellipse cx="2220" cy="798" rx="16" ry="11" transform="rotate(-5 2220 798)" fill="#fff" stroke="#111" stroke-width="2.2"/>
<ellipse cx="2219" cy="800" rx="5" ry="3.5" fill="#aaa" stroke="#333" stroke-width="1.2"/>
<ellipse cx="1946" cy="1467" rx="26" ry="38" transform="rotate(30 1946 1467)" fill="#c0c0c0" stroke="#111" stroke-width="2.2" stroke-linejoin="round" stroke-linecap="round"/>
<ellipse cx="1948.5" cy="1468.5" rx="9" ry="11" transform="rotate(20 1948.5 1468.5)" fill="#fff" stroke="#111" stroke-width="2"/>
<line x1="1941" y1="1463" x2="1956" y2="1474" stroke="#111" stroke-width="1.5"/>
<polygon points="2026.2,1525.9 2035.5,1516.6 2065.1,1531.4 2083.6,1533.3 2096.6,1548.1 2094.7,1562.9 2081.7,1574 2065.1,1571.2 2055.8,1562.9 2054,1553.6 2028.1,1537" fill="#f3f3f3" stroke="#111" stroke-width="2.2" stroke-linejoin="round" stroke-linecap="round"/>
<polygon points="2065,1540 2083.6,1533.3 2096.6,1548.1 2094.7,1562.9 2081.7,1574 2068,1560" fill="#cfcfcf" stroke="none"/>
<path d="M2045,1522 C2044.2,1523.8 2039.8,1529 2040,1533 C2040.2,1537 2045,1543.8 2046,1546" stroke="#111" stroke-width="1.8" fill="none"/>
<ellipse cx="2160" cy="1612" rx="46" ry="62" transform="rotate(30 2160 1612)" fill="#e8e8e8" stroke="#111" stroke-width="2.4"/>
<ellipse cx="2165" cy="1615" rx="46" ry="62" transform="rotate(30 2165 1615)" fill="#d0d0d0" stroke="#111" stroke-width="2.2"/>
<ellipse cx="2170" cy="1617" rx="46" ry="62" transform="rotate(30 2170 1617)" fill="url(#gCap)" stroke="#111" stroke-width="2.4"/>
<line x1="2162" y1="1612" x2="2205" y2="1588" stroke="#222" stroke-width="3.2" stroke-linecap="round"/>
<line x1="2166" y1="1620" x2="2210" y2="1596" stroke="#222" stroke-width="3.2" stroke-linecap="round"/>
<line x1="2168" y1="1630" x2="2208" y2="1606" stroke="#222" stroke-width="3.2" stroke-linecap="round"/>
<line x1="2172" y1="1600" x2="2200" y2="1584" stroke="#222" stroke-width="3.2" stroke-linecap="round"/>
<g transform="rotate(-38 2158 1664)"><g transform="translate(2158 1664) scale(1.0001)"><text x="0" y="0" font-family="Liberation Sans, sans-serif" font-weight="bold" font-size="15" fill="#333" stroke="#111" stroke-width="1" style="filter:grayscale(1)">BIANCHI</text></g></g>
<ellipse cx="2141" cy="1636" rx="3" ry="4" fill="none" stroke="#222" stroke-width="1.5"/>
<ellipse cx="2158" cy="1583" rx="3" ry="4" fill="none" stroke="#222" stroke-width="1.5"/>
<ellipse cx="2181" cy="1570" rx="3" ry="4" fill="none" stroke="#222" stroke-width="1.5"/>
<ellipse cx="2210" cy="1595" rx="3" ry="4" fill="none" stroke="#222" stroke-width="1.5"/>
<ellipse cx="2150" cy="1668" rx="3" ry="4" fill="none" stroke="#222" stroke-width="1.5"/>
<ellipse cx="2195" cy="1655" rx="3" ry="4" fill="none" stroke="#222" stroke-width="1.5"/>
<ellipse cx="582" cy="1491" rx="38" ry="47" transform="rotate(-8 582 1491)" fill="#e6e6e6" stroke="#111" stroke-width="2.4"/>
<ellipse cx="579" cy="1491" rx="38" ry="47" transform="rotate(-8 579 1491)" fill="#bdbdbd" stroke="#111" stroke-width="2.4"/>
<ellipse cx="575.5" cy="1491" rx="38.5" ry="47" transform="rotate(-8 575.5 1491)" fill="url(#gRing)" stroke="#111" stroke-width="2.4"/>
<line x1="559.6" y1="1472.9" x2="594.4" y2="1496.6" stroke="#111" stroke-width="4.2" stroke-linecap="round"/>
<line x1="564.8" y1="1487.7" x2="590.7" y2="1501" stroke="#111" stroke-width="4" stroke-linecap="round"/>
<line x1="561.1" y1="1498.8" x2="583.3" y2="1508.4" stroke="#111" stroke-width="3.5" stroke-linecap="round"/>
<polyline points="549.2,1474.4 555.2,1492.9 545.5,1495.1" fill="none" stroke="#111" stroke-width="3.2"/>
<polygon points="1304.8,1576.8 1315.8,1577.2 1314,1629.3 1302,1628.7" fill="#d6d6d6" stroke="#111" stroke-width="2"/>
<ellipse cx="1310.3" cy="1577" rx="5.5" ry="3" fill="#ccc" stroke="#111" stroke-width="1.5"/>
<ellipse cx="1308" cy="1629" rx="13.5" ry="7.5" fill="#fff" stroke="#111" stroke-width="2"/>
<polygon points="936.8,1778.5 947.8,1779.5 943.8,1833.5 931.8,1832.5" fill="#d6d6d6" stroke="#111" stroke-width="2"/>
<ellipse cx="942.3" cy="1779" rx="5.5" ry="3" fill="#ccc" stroke="#111" stroke-width="1.5"/>
<ellipse cx="937.8" cy="1833" rx="13.5" ry="7.5" fill="#fff" stroke="#111" stroke-width="2"/>
<polygon points="855.9,1797.2 866.7,1798.8 860,1851.8 848,1850.2" fill="#d6d6d6" stroke="#111" stroke-width="2"/>
<ellipse cx="861.3" cy="1798" rx="5.5" ry="3" fill="#ccc" stroke="#111" stroke-width="1.5"/>
<ellipse cx="854" cy="1851" rx="13.5" ry="7.5" fill="#fff" stroke="#111" stroke-width="2"/>
<polygon points="1572,1418.2 1583,1417.8 1585.1,1466.8 1573.1,1467.2" fill="#d6d6d6" stroke="#111" stroke-width="2"/>
<ellipse cx="1577.5" cy="1418" rx="5.5" ry="3" fill="#ccc" stroke="#111" stroke-width="1.5"/>
<ellipse cx="1579.1" cy="1467" rx="13.5" ry="7.5" fill="#fff" stroke="#111" stroke-width="2"/>
<line x1="130" y1="206" x2="293" y2="206" stroke="#111" stroke-width="2.5"/>
<line x1="2261.1" y1="132.4" x2="2114.7" y2="231" stroke="#444" stroke-width="1.6"/>
<line x1="2482.6" y1="145" x2="2155.4" y2="373.7" stroke="#444" stroke-width="1.6"/>
<line x1="1221.4" y1="324.6" x2="1209.8" y2="919" stroke="#111" stroke-width="2.5"/>
<line x1="1367.5" y1="327" x2="1246.5" y2="829" stroke="#111" stroke-width="2.5"/>
<line x1="1546" y1="322.9" x2="1549.7" y2="1054.8" stroke="#111" stroke-width="2.5"/>
<line x1="1697.9" y1="327" x2="1610.7" y2="990" stroke="#111" stroke-width="2.5"/>
<line x1="1850.7" y1="320" x2="1676.3" y2="942" stroke="#111" stroke-width="2.5"/>
<line x1="2436.5" y1="540.3" x2="2699.5" y2="596.5" stroke="#111" stroke-width="2.5"/>
<line x1="2488.1" y1="369.5" x2="2715.5" y2="426.1" stroke="#111" stroke-width="2.5"/>
<line x1="2223.3" y1="745.9" x2="2645" y2="784.9" stroke="#111" stroke-width="2.5"/>
<line x1="2236" y1="798.7" x2="2606.4" y2="972.4" stroke="#111" stroke-width="2.5"/>
<line x1="1984" y1="821" x2="2564.5" y2="1177.2" stroke="#111" stroke-width="2.5"/>
<line x1="627" y1="1172" x2="1038" y2="1315" stroke="#111" stroke-width="2.5"/>
<line x1="432" y1="1861.2" x2="557.6" y2="1532" stroke="#111" stroke-width="2.5"/>
<line x1="1251.9" y1="1867.2" x2="1166" y2="1621" stroke="#111" stroke-width="2.5"/>
<line x1="1507.2" y1="1874.9" x2="1577" y2="1470" stroke="#111" stroke-width="2.5"/>
<line x1="1740.5" y1="1873.4" x2="1935.5" y2="1503" stroke="#111" stroke-width="2.5"/>
<line x1="1964.8" y1="1877.3" x2="2070.6" y2="1572" stroke="#111" stroke-width="2.5"/>
<line x1="2169.8" y1="1874" x2="2170.6" y2="1674" stroke="#111" stroke-width="2.5"/>
<line x1="483.3" y1="551" x2="638.8" y2="618.4" stroke="#444" stroke-width="1.6"/>
<circle cx="71" cy="206.6" r="59.2" fill="#fff" stroke="#111" stroke-width="1.8"/>
<path d="M763 0L583 0L583 1147Q518 1085 412 1023Q306 961 222 930L222 1104Q373 1175 486 1276Q599 1377 646 1472L763 1472Z" transform="translate(53.98 231.60) scale(0.02988 -0.02988)" fill="#000" stroke="#000" stroke-width="43.5"/>
<circle cx="2321.5" cy="103" r="64.6" fill="#fff" stroke="#111" stroke-width="1.8"/>
<text x="2304.48" y="125.00" fill="#404040" stroke="#404040" stroke-width="0.4" font-size="61.2">7</text>
<circle cx="2534.3" cy="103" r="64.6" fill="#fff" stroke="#111" stroke-width="1.8"/>
<path d="M763 0L583 0L583 1147Q518 1085 412 1023Q306 961 222 930L222 1104Q373 1175 486 1276Q599 1377 646 1472L763 1472Z" transform="translate(2500.26 125.00) scale(0.02988 -0.02988)" fill="#404040" stroke="#404040" stroke-width="13.4"/>
<path d="M763 0L583 0L583 1147Q518 1085 412 1023Q306 961 222 930L222 1104Q373 1175 486 1276Q599 1377 646 1472L763 1472Z" transform="translate(2534.30 125.00) scale(0.02988 -0.02988)" fill="#404040" stroke="#404040" stroke-width="13.4"/>
<circle cx="1223.6" cy="255.4" r="69.3" fill="#fff" stroke="#111" stroke-width="1.8"/>
<path d="M763 0L583 0L583 1147Q518 1085 412 1023Q306 961 222 930L222 1104Q373 1175 486 1276Q599 1377 646 1472L763 1472Z" transform="translate(1189.56 277.40) scale(0.02988 -0.02988)" fill="#000" stroke="#000" stroke-width="43.5"/>
<text x="1223.60" y="277.40" fill="#000" stroke="#000" stroke-width="1.3" font-size="61.2">8</text>
<circle cx="1385" cy="257" r="70.7" fill="#fff" stroke="#111" stroke-width="1.8"/>
<text x="1350.96" y="279.00" fill="#000" stroke="#000" stroke-width="1.3" font-size="61.2">2</text>
<text x="1385.00" y="279.00" fill="#000" stroke="#000" stroke-width="1.3" font-size="61.2">0</text>
<circle cx="1546.5" cy="253.7" r="69" fill="#fff" stroke="#111" stroke-width="1.8"/>
<path d="M763 0L583 0L583 1147Q518 1085 412 1023Q306 961 222 930L222 1104Q373 1175 486 1276Q599 1377 646 1472L763 1472Z" transform="translate(1512.46 275.70) scale(0.02988 -0.02988)" fill="#000" stroke="#000" stroke-width="43.5"/>
<text x="1546.50" y="275.70" fill="#000" stroke="#000" stroke-width="1.3" font-size="61.2">6</text>
<circle cx="1708" cy="258.8" r="69" fill="#fff" stroke="#111" stroke-width="1.8"/>
<path d="M763 0L583 0L583 1147Q518 1085 412 1023Q306 961 222 930L222 1104Q373 1175 486 1276Q599 1377 646 1472L763 1472Z" transform="translate(1673.96 280.80) scale(0.02988 -0.02988)" fill="#000" stroke="#000" stroke-width="43.5"/>
<text x="1708.00" y="280.80" fill="#000" stroke="#000" stroke-width="1.3" font-size="61.2">5</text>
<circle cx="1869.8" cy="252.5" r="69" fill="#fff" stroke="#111" stroke-width="1.8"/>
<path d="M763 0L583 0L583 1147Q518 1085 412 1023Q306 961 222 930L222 1104Q373 1175 486 1276Q599 1377 646 1472L763 1472Z" transform="translate(1835.76 274.50) scale(0.02988 -0.02988)" fill="#000" stroke="#000" stroke-width="43.5"/>
<text x="1869.80" y="274.50" fill="#000" stroke="#000" stroke-width="1.3" font-size="61.2">7</text>
<circle cx="419" cy="537" r="64" fill="#fff" stroke="#111" stroke-width="1.8"/>
<text x="384.96" y="559.00" fill="#404040" stroke="#404040" stroke-width="0.4" font-size="61.2">2</text>
<path d="M763 0L583 0L583 1147Q518 1085 412 1023Q306 961 222 930L222 1104Q373 1175 486 1276Q599 1377 646 1472L763 1472Z" transform="translate(419.00 559.00) scale(0.02988 -0.02988)" fill="#404040" stroke="#404040" stroke-width="13.4"/>
<circle cx="2773.4" cy="441.5" r="60" fill="#fff" stroke="#111" stroke-width="1.8"/>
<text x="2756.38" y="463.50" fill="#000" stroke="#000" stroke-width="1.3" font-size="61.2">4</text>
<circle cx="2757.5" cy="610" r="59.5" fill="#fff" stroke="#111" stroke-width="1.8"/>
<text x="2740.48" y="632.00" fill="#000" stroke="#000" stroke-width="1.3" font-size="61.2">3</text>
<circle cx="2714.2" cy="791.6" r="69.4" fill="#fff" stroke="#111" stroke-width="1.8"/>
<path d="M763 0L583 0L583 1147Q518 1085 412 1023Q306 961 222 930L222 1104Q373 1175 486 1276Q599 1377 646 1472L763 1472Z" transform="translate(2680.16 813.60) scale(0.02988 -0.02988)" fill="#000" stroke="#000" stroke-width="43.5"/>
<text x="2714.20" y="813.60" fill="#000" stroke="#000" stroke-width="1.3" font-size="61.2">0</text>
<circle cx="2669" cy="1003" r="69.2" fill="#fff" stroke="#111" stroke-width="1.8"/>
<path d="M763 0L583 0L583 1147Q518 1085 412 1023Q306 961 222 930L222 1104Q373 1175 486 1276Q599 1377 646 1472L763 1472Z" transform="translate(2634.96 1025.00) scale(0.02988 -0.02988)" fill="#000" stroke="#000" stroke-width="43.5"/>
<text x="2669.00" y="1025.00" fill="#000" stroke="#000" stroke-width="1.3" font-size="61.2">3</text>
<circle cx="2623.4" cy="1214.5" r="69.3" fill="#fff" stroke="#111" stroke-width="1.8"/>
<path d="M763 0L583 0L583 1147Q518 1085 412 1023Q306 961 222 930L222 1104Q373 1175 486 1276Q599 1377 646 1472L763 1472Z" transform="translate(2589.36 1236.50) scale(0.02988 -0.02988)" fill="#000" stroke="#000" stroke-width="43.5"/>
<text x="2623.40" y="1236.50" fill="#000" stroke="#000" stroke-width="1.3" font-size="61.2">4</text>
<circle cx="569" cy="1151.5" r="60" fill="#fff" stroke="#111" stroke-width="1.8"/>
<text x="551.98" y="1173.50" fill="#000" stroke="#000" stroke-width="1.3" font-size="61.2">2</text>
<circle cx="410.2" cy="1918.1" r="60" fill="#fff" stroke="#111" stroke-width="1.8"/>
<text x="393.18" y="1940.10" fill="#000" stroke="#000" stroke-width="1.3" font-size="61.2">5</text>
<circle cx="1276.5" cy="1932.1" r="69.3" fill="#fff" stroke="#111" stroke-width="1.8"/>
<path d="M763 0L583 0L583 1147Q518 1085 412 1023Q306 961 222 930L222 1104Q373 1175 486 1276Q599 1377 646 1472L763 1472Z" transform="translate(1242.46 1954.10) scale(0.02988 -0.02988)" fill="#000" stroke="#000" stroke-width="43.5"/>
<text x="1276.50" y="1954.10" fill="#000" stroke="#000" stroke-width="1.3" font-size="61.2">9</text>
<circle cx="1496.7" cy="1934.3" r="59.6" fill="#fff" stroke="#111" stroke-width="1.8"/>
<text x="1479.68" y="1956.30" fill="#000" stroke="#000" stroke-width="1.3" font-size="61.2">9</text>
<circle cx="1708.9" cy="1934.5" r="69.2" fill="#fff" stroke="#111" stroke-width="1.8"/>
<path d="M763 0L583 0L583 1147Q518 1085 412 1023Q306 961 222 930L222 1104Q373 1175 486 1276Q599 1377 646 1472L763 1472Z" transform="translate(1674.86 1956.50) scale(0.02988 -0.02988)" fill="#000" stroke="#000" stroke-width="43.5"/>
<text x="1708.90" y="1956.50" fill="#000" stroke="#000" stroke-width="1.3" font-size="61.2">2</text>
<circle cx="1945.1" cy="1934.3" r="59.8" fill="#fff" stroke="#111" stroke-width="1.8"/>
<text x="1928.08" y="1956.30" fill="#000" stroke="#000" stroke-width="1.3" font-size="61.2">8</text>
<circle cx="2169.8" cy="1934.3" r="59.5" fill="#fff" stroke="#111" stroke-width="1.8"/>
<text x="2152.78" y="1956.30" fill="#000" stroke="#000" stroke-width="1.3" font-size="61.2">6</text>
</svg>
</body></html>
